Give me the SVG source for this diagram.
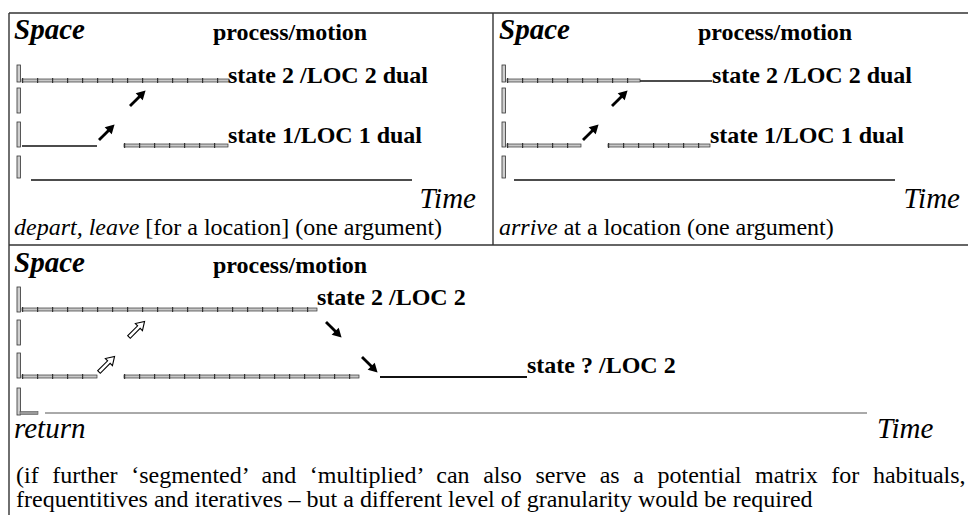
<svg xmlns="http://www.w3.org/2000/svg" xmlns:xlink="http://www.w3.org/1999/xlink" width="968" height="515" viewBox="0 0 968 515">
<style>
  text { font-family: "Liberation Serif", "Times New Roman", serif; fill: #000; }
  .b { font-weight: bold; font-size: 24px; }
  .r { font-size: 24px; }
  .bi { font-weight: bold; font-style: italic; font-size: 29px; }
  .it { font-style: italic; font-size: 29px; }
  .i { font-style: italic; }
  .frame { stroke: #333; stroke-width: 1.4; fill: none; }
  .vbar { fill: #d0d0d0; stroke: #333; stroke-width: 0.8; }
  .dbl { fill: #c8c8c8; stroke: #333; stroke-width: 0.7; }
  .tick { stroke: #333; stroke-width: 5; stroke-dasharray: 1.2 13.8; fill: none; }
  .solid { stroke: #111; stroke-width: 1.6; fill: none; }
  .thin { stroke: #555; stroke-width: 1; fill: none; }
</style>
<defs>
  <g id="arS">
    <line x1="0" y1="0" x2="15" y2="0" stroke="#000" stroke-width="2.8"/>
    <path d="M13,-5 L22,0 L13,5 Z" fill="#000"/>
  </g>
  <g id="arH">
    <path d="M0,-1.8 L14,-1.8 L14,-5 L22,0 L14,5 L14,1.8 L0,1.8 Z" fill="#fff" stroke="#000" stroke-width="1.1"/>
  </g>
</defs>
<rect width="968" height="515" fill="#fff"/>

<!-- frame -->
<g id="frame">
  <line class="frame" x1="9" y1="13" x2="968" y2="13"/>
  <line class="frame" x1="9" y1="13" x2="9" y2="515"/>
  <line class="frame" x1="493" y1="13" x2="493" y2="245"/>
  <line class="frame" x1="9" y1="245" x2="968" y2="245"/>
</g>

<!-- panel: depart -->
<g id="panel-depart">
  <text class="bi" x="14" y="39">Space</text>
  <text class="b" x="213" y="40">process/motion</text>
  <rect class="vbar" x="17" y="65" width="3.5" height="17"/>
  <rect class="dbl" x="22" y="79" width="207" height="3"/>
  <line class="tick" x1="22" y1="80.5" x2="229" y2="80.5"/>
  <text class="b" x="228" y="83">state 2 /LOC 2 dual</text>
  <rect class="vbar" x="17" y="88" width="3.5" height="25"/>
  <rect class="vbar" x="17" y="122" width="3.5" height="25"/>
  <line class="solid" x1="22" y1="146" x2="97" y2="146"/>
  <rect class="dbl" x="124" y="144" width="104" height="3"/>
  <line class="tick" x1="124" y1="145.5" x2="228" y2="145.5"/>
  <text class="b" x="228" y="143">state 1/LOC 1 dual</text>
  <rect class="vbar" x="17" y="156" width="3.5" height="22"/>
  <line class="solid" x1="31" y1="180" x2="412" y2="180"/>
  <text class="it" text-anchor="end" x="476" y="208">Time</text>
  <text class="r" x="14" y="235"><tspan class="i">depart, leave</tspan> [for a location] (one argument)</text>
</g>

<!-- panel: arrive -->
<g id="panel-arrive">
  <text class="bi" x="499" y="39">Space</text>
  <text class="b" x="698" y="40">process/motion</text>
  <rect class="vbar" x="502" y="65" width="3.5" height="17"/>
  <rect class="dbl" x="507" y="79" width="133" height="3"/>
  <line class="tick" x1="507" y1="80.5" x2="640" y2="80.5"/>
  <line class="solid" x1="640" y1="81" x2="712" y2="81"/>
  <text class="b" x="712" y="83">state 2 /LOC 2 dual</text>
  <rect class="vbar" x="502" y="88" width="3.5" height="25"/>
  <rect class="vbar" x="502" y="122" width="3.5" height="25"/>
  <rect class="dbl" x="507" y="144" width="74" height="3"/>
  <line class="tick" x1="507" y1="145.5" x2="581" y2="145.5"/>
  <rect class="dbl" x="608" y="144" width="102" height="3"/>
  <line class="tick" x1="608" y1="145.5" x2="710" y2="145.5"/>
  <text class="b" x="710" y="143">state 1/LOC 1 dual</text>
  <rect class="vbar" x="502" y="156" width="3.5" height="22"/>
  <line class="solid" x1="514" y1="180" x2="895" y2="180"/>
  <text class="it" text-anchor="end" x="960" y="208">Time</text>
  <text class="r" x="499" y="235"><tspan class="i">arrive</tspan> at a location (one argument)</text>
</g>

<!-- panel: return -->
<g id="panel-return">
  <text class="bi" x="14" y="272">Space</text>
  <text class="b" x="213" y="273">process/motion</text>
  <rect class="vbar" x="17" y="287" width="3.5" height="25"/>
  <rect class="dbl" x="22" y="308" width="295" height="3"/>
  <line class="tick" x1="22" y1="309.5" x2="317" y2="309.5"/>
  <text class="b" x="317" y="305">state 2 /LOC 2</text>
  <rect class="vbar" x="17" y="320" width="3.5" height="25"/>
  <rect class="vbar" x="17" y="353" width="3.5" height="25"/>
  <rect class="dbl" x="22" y="375" width="75" height="3"/>
  <line class="tick" x1="22" y1="376.5" x2="97" y2="376.5"/>
  <rect class="dbl" x="124" y="375" width="235" height="3"/>
  <line class="tick" x1="124" y1="376.5" x2="359" y2="376.5"/>
  <line x1="380" y1="377" x2="527" y2="377" stroke="#111" stroke-width="2"/>
  <text class="b" x="527" y="373">state ? /LOC 2</text>
  <rect class="vbar" x="17" y="388" width="3.5" height="27"/>
  <rect x="20" y="411.5" width="18" height="3" fill="#999" stroke="#555" stroke-width="0.6"/>
  <line class="thin" x1="45" y1="413" x2="867" y2="413"/>
  <text class="it" x="14" y="438">return</text>
  <text class="it" x="877" y="438">Time</text>
</g>

<!-- note -->
<g id="note">
  <text class="r" word-spacing="7.6" x="16" y="483">(if further ‘segmented’ and ‘multiplied’ can also serve as a potential matrix for habituals,</text>
  <text class="r" x="16" y="507">frequentitives and iteratives – but a different level of granularity would be required</text>
</g>

<!-- connectors -->
<g id="connectors">
  <use xlink:href="#arS" transform="translate(130,106) rotate(-45)"/>
  <use xlink:href="#arS" transform="translate(99,140) rotate(-45)"/>
  <use xlink:href="#arS" transform="translate(612,106) rotate(-45)"/>
  <use xlink:href="#arS" transform="translate(583,140) rotate(-45)"/>
  <use xlink:href="#arH" transform="translate(129,337) rotate(-45)"/>
  <use xlink:href="#arH" transform="translate(99,372) rotate(-45)"/>
  <use xlink:href="#arS" transform="translate(326,322) rotate(45)"/>
  <use xlink:href="#arS" transform="translate(362,357) rotate(45)"/>
</g>
</svg>
